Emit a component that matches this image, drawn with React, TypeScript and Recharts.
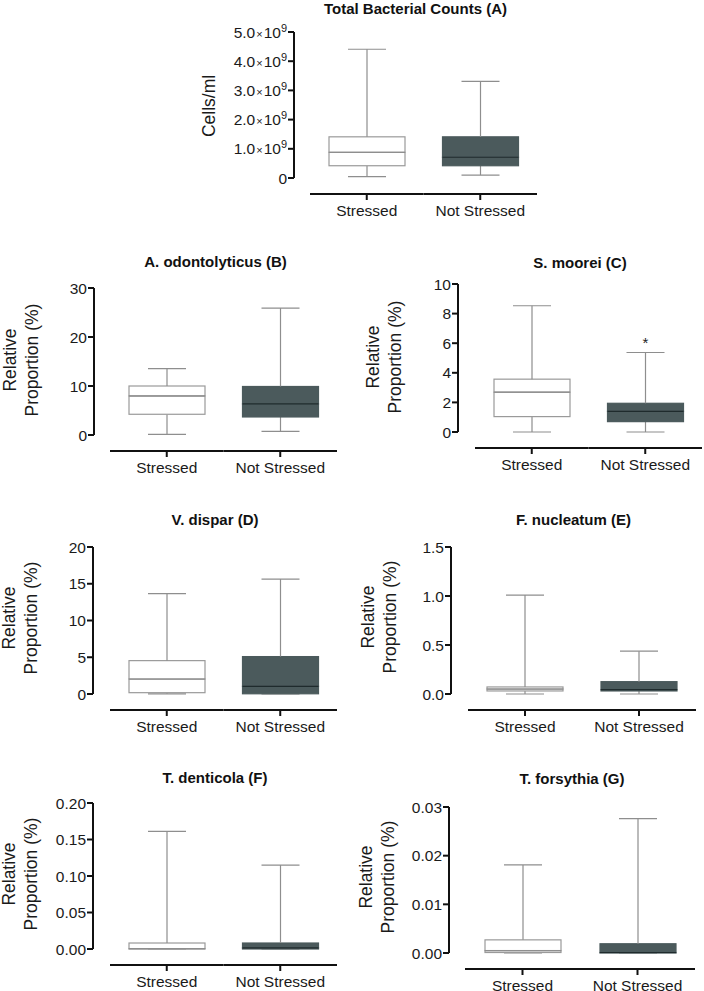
import { Bar, BarChart, XAxis, YAxis } from "recharts";

const FONT = '"Liberation Sans", Arial, sans-serif';

const groups = ["Stressed", "Not Stressed"];

// five-number summaries per group: [min, q1, median, q3, max]
const totalCounts = [
  [4.5e7, 4.2e8, 8.8e8, 1.41e9, 4.41e9],
  [1.0e8, 4.2e8, 7.1e8, 1.41e9, 3.31e9]
];
const odontolyticus = [
  [0.14, 4.23, 7.97, 10.0, 13.56],
  [0.75, 3.68, 6.34, 9.9, 25.9]
];
const moorei = [
  [0, 1.04, 2.69, 3.57, 8.53],
  [0, 0.7, 1.4, 1.94, 5.37]
];
const dispar = [
  [0.02, 0.18, 2.04, 4.54, 13.67],
  [0, 0.03, 1.05, 5.09, 15.64]
];
const nucleatum = [
  [0, 0.031, 0.051, 0.072, 1.009],
  [0, 0.031, 0.045, 0.126, 0.437]
];
const denticola = [
  [0, 0, 0.0005, 0.0082, 0.161],
  [0, 0, 0.0015, 0.0082, 0.115]
];
const forsythia = [
  [0, 0.0001, 0.0005, 0.0027, 0.0181],
  [0, 0, 0.0001, 0.0019, 0.0276]
];
const mooreiStars = ["", "*"];

const totalTicks = [0, 1e9, 2e9, 3e9, 4e9, 5e9];
const odontolyticusTicks = [0, 10, 20, 30];
const mooreiTicks = [0, 2, 4, 6, 8, 10];
const disparTicks = [0, 5, 10, 15, 20];
const nucleatumTicks = [0, 0.5, 1.0, 1.5];
const denticolaTicks = [0, 0.05, 0.1, 0.15, 0.2];
const forsythiaTicks = [0, 0.01, 0.02, 0.03];

const boxFill = ["#ffffff", "#4b5a5c"];
const boxStroke = ["#9a9a9a", "#4b5a5c"];
const medianStroke = ["#8e8e8e", "#1f2b2d"];
const whiskerStroke = "#8e8e8e";

function buildRows(stats: number[][], stars?: string[]) {
  return groups.map((name, i) => {
    const [min, q1, med, q3, max] = stats[i];
    return {
      name,
      idx: i,
      star: stars ? stars[i] : "",
      base: min,
      lowWhisker: q1 - min,
      lowBox: med - q1,
      highBox: q3 - med,
      highWhisker: max - q3
    };
  });
}

function LowWhisker(props: any) {
  const { x, y, width, height } = props;
  const cx = x + width / 2;
  const cap = width / 4;
  return (
    <g>
      <line x1={cx} x2={cx} y1={y} y2={y + height} stroke={whiskerStroke} strokeWidth={1.2} />
      <line x1={cx - cap} x2={cx + cap} y1={y + height} y2={y + height} stroke={whiskerStroke} strokeWidth={1.2} />
    </g>
  );
}

function HighWhisker(props: any) {
  const { x, y, width, height, payload } = props;
  const cx = x + width / 2;
  const cap = width / 4;
  return (
    <g>
      <line x1={cx} x2={cx} y1={y} y2={y + height} stroke={whiskerStroke} strokeWidth={1.2} />
      <line x1={cx - cap} x2={cx + cap} y1={y} y2={y} stroke={whiskerStroke} strokeWidth={1.2} />
      {payload.star ? (
        <text x={cx} y={y - 5} textAnchor="middle" fontSize={15} fontFamily={FONT} fill="#222">
          {payload.star}
        </text>
      ) : null}
    </g>
  );
}

function LowBox(props: any) {
  const { x, y, width, height, payload } = props;
  const i = payload.idx;
  return (
    <rect x={x} y={y} width={width} height={Math.max(height, 0)} fill={boxFill[i]} stroke={boxStroke[i]} strokeWidth={1.2} />
  );
}

function HighBox(props: any) {
  const { x, y, width, height, payload } = props;
  const i = payload.idx;
  return (
    <g>
      <rect x={x} y={y} width={width} height={Math.max(height, 0)} fill={boxFill[i]} stroke={boxStroke[i]} strokeWidth={1.2} />
      <line x1={x} x2={x + width} y1={y + height} y2={y + height} stroke={medianStroke[i]} strokeWidth={1.2} />
    </g>
  );
}

function GroupTick(props: any) {
  const { x, y, payload } = props;
  const half = payload.offset ?? 56;
  const ly = y + 16;
  return (
    <g>
      <line x1={x - half} x2={x + half} y1={ly} y2={ly} stroke="#111" strokeWidth={2} />
      <line x1={x} x2={x} y1={ly} y2={ly + 6} stroke="#111" strokeWidth={2} />
      <text x={x} y={ly + 21.5} textAnchor="middle" fontSize={15.5} fontFamily={FONT} fill="#1a1a1a">
        {payload.value}
      </text>
    </g>
  );
}

function PowerTick(props: any) {
  const { x, y, payload } = props;
  const v = payload.value;
  if (v === 0) {
    return (
      <text x={x} y={y} dy="0.355em" textAnchor="end" fontSize={15.5} fontFamily={FONT} fill="#1a1a1a">
        0
      </text>
    );
  }
  return (
    <text x={x} y={y} dy="0.355em" textAnchor="end" fontSize={15.5} fontFamily={FONT} fill="#1a1a1a">
      {(v / 1e9).toFixed(1)}
      <tspan fontSize={11} dx={1}>×</tspan>
      <tspan dx={1}>10</tspan>
      <tspan fontSize={11} dy={-6}>9</tspan>
    </text>
  );
}

type PanelProps = {
  title: string;
  stats: number[][];
  stars?: string[];
  ticks: number[];
  digits: number;
  power?: boolean;
  yLabel: string[];
  labelX: number;
  labelY: number;
  titleY: number;
  plotLeft: number;
  plotTop: number;
  plotBottom: number;
  plotRight: number;
  padLeft: number;
};

const Y_AXIS_W = 90;

function BoxPanel(p: PanelProps) {
  const rows = buildRows(p.stats, p.stars);
  const left = p.plotLeft - Y_AXIS_W;
  const top = p.plotTop - 10;
  const width = p.plotRight + 4 - left;
  const height = p.plotBottom + 44 - top;
  const max = p.ticks[p.ticks.length - 1];
  return (
    <>
      <div
        style={{
          position: "absolute",
          left: p.plotLeft - 40,
          width: p.plotRight - p.plotLeft + 80,
          top: p.titleY - 9,
          lineHeight: "18px",
          textAlign: "center",
          fontFamily: FONT,
          fontWeight: "bold",
          fontSize: 15,
          color: "#111"
        }}
      >
        {p.title}
      </div>
      <div
        style={{
          position: "absolute",
          left: p.labelX,
          top: p.labelY,
          transform: "translate(-50%, -50%) rotate(-90deg)",
          whiteSpace: "nowrap",
          textAlign: "center",
          lineHeight: "22px",
          fontFamily: FONT,
          fontSize: 17.5,
          color: "#1a1a1a"
        }}
      >
        {p.yLabel.map((line) => (
          <div key={line}>{line}</div>
        ))}
      </div>
      <div style={{ position: "absolute", left, top }}>
        <BarChart
          width={width}
          height={height}
          data={rows}
          margin={{ top: 10, right: 4, left: 0, bottom: 0 }}
        >
          <XAxis
            dataKey="name"
            type="category"
            padding={{ left: p.padLeft, right: 0 }}
            axisLine={false}
            tickLine={false}
            tickSize={0}
            tickMargin={0}
            height={44}
            interval={0}
            tick={<GroupTick />}
          />
          <YAxis
            type="number"
            domain={[0, max]}
            ticks={p.ticks}
            interval={0}
            width={Y_AXIS_W}
            axisLine={{ stroke: "#111", strokeWidth: 2 }}
            tickLine={{ stroke: "#111", strokeWidth: 2 }}
            tickSize={6}
            tickMargin={1}
            tick={p.power ? <PowerTick /> : { fill: "#1a1a1a", fontSize: 15.5, fontFamily: FONT }}
            tickFormatter={(v) => Number(v).toFixed(p.digits)}
          />
          <Bar dataKey="base" stackId="box" fill="none" barSize={76} isAnimationActive={false} />
          <Bar dataKey="lowWhisker" stackId="box" barSize={76} shape={<LowWhisker />} isAnimationActive={false} />
          <Bar dataKey="lowBox" stackId="box" barSize={76} shape={<LowBox />} isAnimationActive={false} />
          <Bar dataKey="highBox" stackId="box" barSize={76} shape={<HighBox />} isAnimationActive={false} />
          <Bar dataKey="highWhisker" stackId="box" barSize={76} shape={<HighWhisker />} isAnimationActive={false} />
        </BarChart>
      </div>
    </>
  );
}

const propLabel = ["Relative", "Proportion (%)"];

export default function App() {
  return (
    <div
      style={{
        position: "absolute",
        left: 0,
        top: 0,
        width: 704,
        height: 991,
        background: "#fff",
        overflow: "hidden"
      }}
    >
      <BoxPanel
        title="Total Bacterial Counts (A)"
        stats={totalCounts}
        ticks={totalTicks}
        digits={0}
        power
        yLabel={["Cells/ml"]}
        labelX={209}
        labelY={106}
        titleY={9}
        plotLeft={294}
        plotTop={32}
        plotBottom={178}
        plotRight={537}
        padLeft={16}
      />
      <BoxPanel
        title="A. odontolyticus (B)"
        stats={odontolyticus}
        ticks={odontolyticusTicks}
        digits={0}
        yLabel={propLabel}
        labelX={20.5}
        labelY={360}
        titleY={262}
        plotLeft={94}
        plotTop={288}
        plotBottom={435}
        plotRight={337}
        padLeft={16}
      />
      <BoxPanel
        title="S. moorei (C)"
        stats={moorei}
        stars={mooreiStars}
        ticks={mooreiTicks}
        digits={0}
        yLabel={propLabel}
        labelX={383.5}
        labelY={357}
        titleY={263}
        plotLeft={458}
        plotTop={284}
        plotBottom={432}
        plotRight={702}
        padLeft={17}
      />
      <BoxPanel
        title="V. dispar (D)"
        stats={dispar}
        ticks={disparTicks}
        digits={0}
        yLabel={propLabel}
        labelX={19.5}
        labelY={618}
        titleY={520}
        plotLeft={93}
        plotTop={547}
        plotBottom={694}
        plotRight={337}
        padLeft={17}
      />
      <BoxPanel
        title="F. nucleatum (E)"
        stats={nucleatum}
        ticks={nucleatumTicks}
        digits={1}
        yLabel={propLabel}
        labelX={378.5}
        labelY={617}
        titleY={520}
        plotLeft={451}
        plotTop={547}
        plotBottom={694}
        plotRight={696}
        padLeft={17}
      />
      <BoxPanel
        title="T. denticola (F)"
        stats={denticola}
        ticks={denticolaTicks}
        digits={2}
        yLabel={propLabel}
        labelX={19.5}
        labelY={874}
        titleY={778}
        plotLeft={93}
        plotTop={803}
        plotBottom={949}
        plotRight={337}
        padLeft={17}
      />
      <BoxPanel
        title="T. forsythia (G)"
        stats={forsythia}
        ticks={forsythiaTicks}
        digits={2}
        yLabel={propLabel}
        labelX={376.5}
        labelY={877}
        titleY={779}
        plotLeft={449}
        plotTop={807}
        plotBottom={953}
        plotRight={695}
        padLeft={16}
      />
    </div>
  );
}
